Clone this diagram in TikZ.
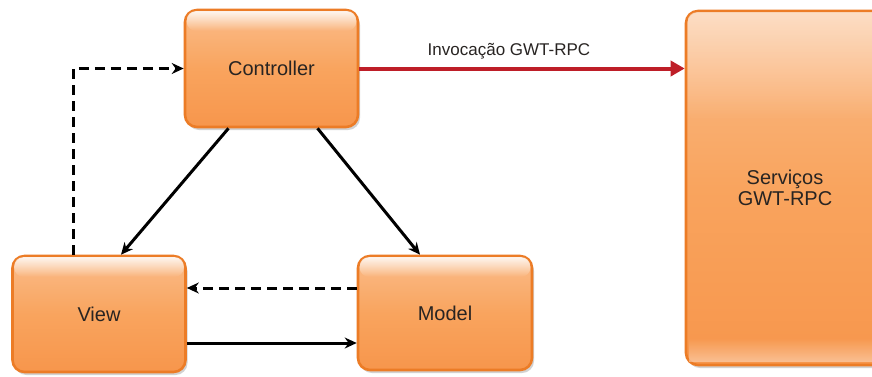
\documentclass[tikz,border=0pt]{standalone}
\usepackage{fontspec}
\setmainfont{Liberation Sans}
\usetikzlibrary{arrows.meta,shadows,fadings}

\definecolor{boxedge}{RGB}{236,124,38}
\definecolor{boxtop}{RGB}{250,188,138}
\definecolor{boxmid}{RGB}{249,164,94}
\definecolor{boxbot}{RGB}{247,150,76}
\definecolor{labeltext}{RGB}{40,36,34}
\definecolor{rpcred}{RGB}{190,30,40}

\newcommand\glossbox[3]{%
  % white highlight along the top edge of a box
  \fill[white, rounded corners=9pt, path fading=south, fill opacity=#3]
    ([xshift=3pt,yshift=-2.5pt]#1.north west) rectangle ([xshift=-3pt,yshift=-#2]#1.north east);
}

\tikzset{
  mvcbox/.style={draw=boxedge, line width=2.6pt, rounded corners=12pt,
    top color=boxtop, bottom color=boxbot, middle color=boxmid,
    text=labeltext, font=\fontsize{20}{21.5}\selectfont, align=center,
    inner sep=0pt,
    drop shadow={shadow xshift=2pt, shadow yshift=-3pt, opacity=0.25, fill=black!70}},
  flow/.style={line width=3pt, -{Stealth[length=12pt,width=11pt]}},
  flowdash/.style={flow, dash pattern=on 10pt off 6pt},
  rpc/.style={draw=rpcred, line width=4pt, -{Triangle[length=14pt,width=15pt]}, rpcred}
}

\begin{document}
\begin{tikzpicture}[x=1pt, y=-1pt]
  \useasboundingbox (0,0) rectangle (872,376);
  \clip (0,0) rectangle (872,376);
  \fill[white] (0,0) rectangle (872,376);

  % boxes
  \node[mvcbox, minimum width=173pt, minimum height=117pt] (ctrl) at (271.5,68.5) {Controller};
  \node[mvcbox, minimum width=173pt, minimum height=116pt] (view) at (99,314) {View};
  \node[mvcbox, minimum width=174pt, minimum height=114pt] (model) at (445,313) {Model};
  \node[mvcbox, minimum width=198pt, minimum height=354pt] (svc) at (785,188) {Serviços\\GWT-RPC};

  \glossbox{ctrl}{22pt}{0.85}
  \glossbox{view}{22pt}{0.85}
  \glossbox{model}{22pt}{0.85}
  \glossbox{svc}{110pt}{0.5}
  \fill[white, path fading=north, fill opacity=0.4]
    ([xshift=4pt,yshift=28pt]svc.south west) rectangle ([xshift=-4pt,yshift=4pt]svc.south east);

  % connectors
  \draw[flowdash] ([xshift=-26pt]view.north) |- (ctrl.west);
  \draw[flow] ([xshift=-43pt]ctrl.south) -- ([xshift=22pt]view.north);
  \draw[flow] ([xshift=46pt]ctrl.south) -- ([xshift=-25pt]model.north);
  \draw[flowdash] ([yshift=25pt]model.west) -- ([yshift=25pt]model.west -| view.east);
  \draw[flow] ([yshift=-29pt]view.east) -- ([yshift=-29pt]view.east -| model.west);
  \draw[rpc] (ctrl.east) -- (ctrl.east -| svc.west)
    node[pos=0.46, above=4pt, text=labeltext, font=\fontsize{17}{20}\selectfont] (inv) {Invocação GWT-RPC};
\end{tikzpicture}
\end{document}
